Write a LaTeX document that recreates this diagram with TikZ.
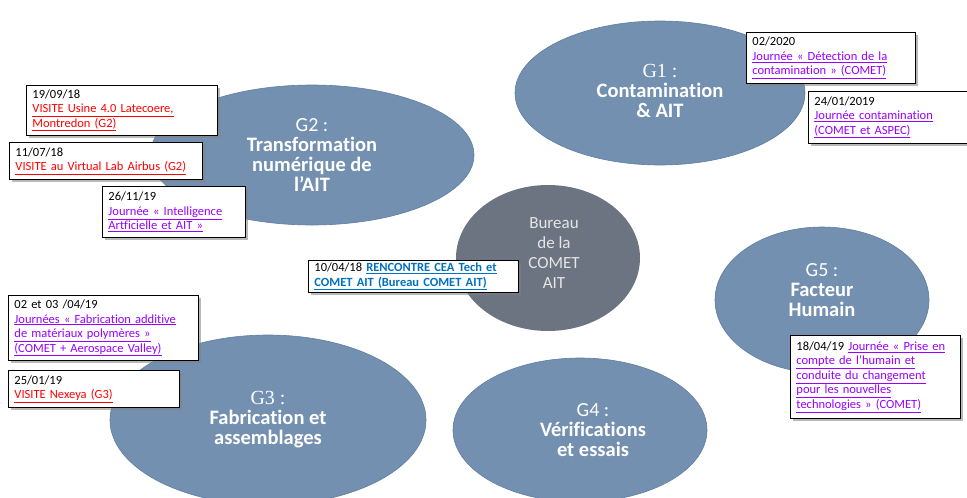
\documentclass[tikz,border=0pt]{standalone}
\usepackage{fontspec}
\setmainfont{Carlito}[Ligatures=NoCommon]
\newfontfamily\serifnum{Liberation Serif}
\usetikzlibrary{shapes.geometric,shadows}

\definecolor{groupfill}{HTML}{7490B0}
\definecolor{groupedge}{HTML}{5F7EA3}
\definecolor{bureaufill}{HTML}{6B7480}
\definecolor{bureautext}{HTML}{E6E6E6}
\definecolor{visitered}{HTML}{FF0000}
\definecolor{journeeviolet}{HTML}{9900FF}
\definecolor{rencontreblue}{HTML}{0070C0}

\newcommand\visite[1]{\textcolor{visitered}{\underline{#1}}}
\newcommand\journee[1]{\textcolor{journeeviolet}{\underline{#1}}}
\newcommand\rencontre[1]{\textcolor{rencontreblue}{\underline{\textbf{#1}}}}

\begin{document}
\begin{tikzpicture}[
    x=1pt, y=-1pt,
    group/.style={ellipse, draw=groupedge, line width=0.6pt, fill=groupfill,
        inner sep=0pt},
    bureau/.style={ellipse, fill=bureaufill, inner sep=0pt},
    group title/.style={align=center, text=white,
        font=\fontsize{20.5}{20}\selectfont\bfseries},
    event/.style 2 args={draw=black, fill=white, anchor=north west,
        align=left, text width=#1, minimum height=#2, inner xsep=6pt,
        inner ysep=0pt, line width=0.9pt,
        font=\fontsize{12.5}{14.5}\selectfont,
        drop shadow={shadow xshift=2.5pt, shadow yshift=-2.5pt,
            opacity=0.55}}
    ]
    \useasboundingbox (0,0) rectangle (967,498);
    \clip (0,0) rectangle (967,498);
    % groups
    \node[group, minimum width=324, minimum height=140] (g2) at (312,155) {};
    \node[group, minimum width=290, minimum height=144] (g1) at (660,93) {};
    \node[bureau, minimum width=184, minimum height=146] (bureau) at (548,258) {};
    \node[group, minimum width=214, minimum height=146] (g5) at (822,300) {};
    \node[group, minimum width=316, minimum height=170] (g3) at (268,420) {};
    \node[group, minimum width=254, minimum height=144] (g4) at (580,430) {};
    % group titles
    \node[group title] (g2title) at (g2.center)
        {{\fontsize{20}{22}\selectfont\mdseries G2 :}\\Transformation\\
         numérique de\\l’AIT};
    \node[group title] (g1title) at ([yshift=2pt]g1.center)
        {{\serifnum\fontsize{20}{18}\selectfont\mdseries G1 :}\\Contamination\\
         \& AIT};
    \node[group title] (g3title) at (g3.center)
        {{\serifnum\fontsize{20}{20}\selectfont\mdseries G3 :}\\Fabrication et\\
         assemblages};
    \node[group title] (g4title) at ([xshift=13pt]g4.center)
        {{\fontsize{20}{20}\selectfont\mdseries G4 :}\\Vérifications\\et essais};
    \node[group title] (g5title) at ([yshift=10pt]g5.center)
        {{\fontsize{20}{20}\selectfont\mdseries G5 :}\\Facteur\\Humain};
    \node[align=center, text=bureautext, font=\fontsize{17}{20}\selectfont]
        (bureautitle) at ([xshift=6pt, yshift=5pt]bureau.center)
        {Bureau\\de la\\COMET\\AIT};
    % events G2
    \node[event={179pt}{50pt}] (visit1) at (26,85)
        {19/09/18\\\visite{VISITE Usine 4.0 Latecoere,}\\\visite{Montredon (G2)}};
    \node[event={181pt}{37pt}] (visit2) at (9,142)
        {11/07/18\\\visite{VISITE au Virtual Lab Airbus (G2)}};
    \node[event={131pt}{51pt}] (day1) at (102,186)
        {26/11/19\\\journee{Journée « Intelligence}\\\journee{Artficielle et AIT »}};
    % events G1
    \node[event={157pt}{51pt}] (day2) at (746,32)
        {02/2020\\\journee{Journée « Détection de la}\\\journee{contamination » (COMET)}};
    \node[event={160pt}{52pt}] (day3) at (808,91)
        {24/01/2019\\\journee{Journée contamination}\\\journee{(COMET et ASPEC)}};
    % event bureau
    \node[event={198pt}{32pt}] (meeting) at (308,260)
        {10/04/18 \rencontre{RENCONTRE CEA Tech et}\\
         \rencontre{COMET AIT (Bureau COMET AIT)}};
    % events G3
    \node[event={178pt}{65pt}] (day4) at (8,295)
        {02 et 03 /04/19\\\journee{Journées « Fabrication additive}\\
         \journee{de matériaux polymères »}\\\journee{(COMET + Aerospace Valley)}};
    \node[event={159pt}{37pt}] (visit3) at (8,370)
        {25/01/19\\\visite{VISITE Nexeya (G3)}};
    % event G5
    \node[event={158pt}{83pt}] (day5) at (790,335)
        {18/04/19 \journee{Journée « Prise en}\\\journee{compte de l’humain et}\\
         \journee{conduite du changement}\\\journee{pour les nouvelles}\\
         \journee{technologies » (COMET)}};
\end{tikzpicture}
\end{document}
